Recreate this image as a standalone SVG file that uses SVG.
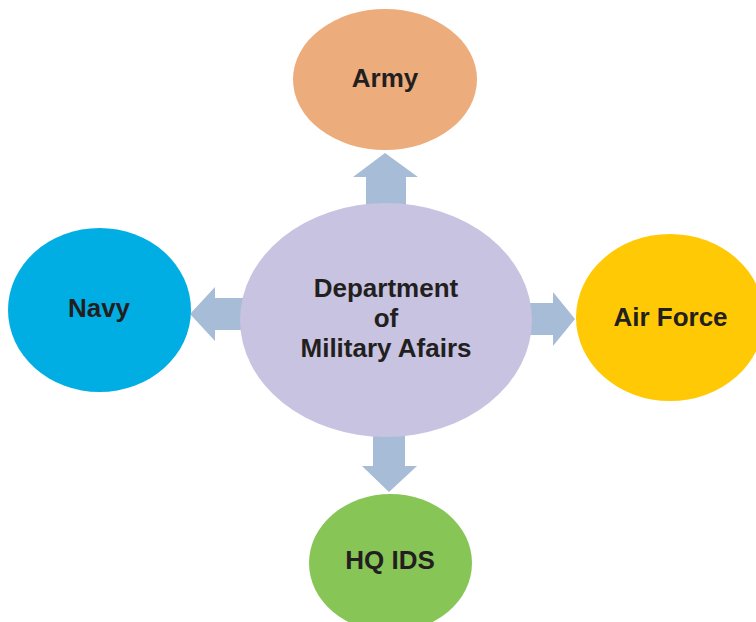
<svg xmlns="http://www.w3.org/2000/svg" width="756" height="622" viewBox="0 0 756 622">
<style>
.lbl{font-family:"Liberation Sans",Arial,sans-serif;font-weight:bold;font-size:26px;fill:#231f20;text-anchor:middle}
.arr{fill:#a7bcd6}
</style>
<rect width="756" height="622" fill="#ffffff"/>
<g id="connectors">
<polygon class="arr" points="385,153 418,177 406,177 406,215 366,215 366,177 353,177"/>
<polygon class="arr" points="190,314 215,287 215,298 252,298 252,330 215,330 215,341"/>
<polygon class="arr" points="575,319 553,292 553,303 520,303 520,335 553,335 553,346"/>
<polygon class="arr" points="389,492 417,466 405,466 405,428 373,428 373,466 362,466"/>
</g>
<g id="army">
<ellipse cx="385" cy="79.5" rx="92" ry="70.5" fill="#edac7c"/>
<text class="lbl" x="385" y="87">Army</text>
</g>
<g id="navy">
<ellipse cx="99.5" cy="310" rx="91.5" ry="82" fill="#00aee3"/>
<text class="lbl" x="99" y="317">Navy</text>
</g>
<g id="airforce">
<ellipse cx="670" cy="317.5" rx="94" ry="83.5" fill="#ffc905"/>
<text class="lbl" x="670.5" y="326">Air Force</text>
</g>
<g id="hqids">
<ellipse cx="390.5" cy="563" rx="81.5" ry="69" fill="#88c557"/>
<text class="lbl" x="390" y="569">HQ IDS</text>
</g>
<g id="dma">
<ellipse cx="386" cy="320" rx="146" ry="117" fill="#c7c3e1"/>
<text class="lbl" x="386" y="297">Department</text>
<text class="lbl" x="386" y="327">of</text>
<text class="lbl" x="386" y="357">Military Afairs</text>
</g>
</svg>
